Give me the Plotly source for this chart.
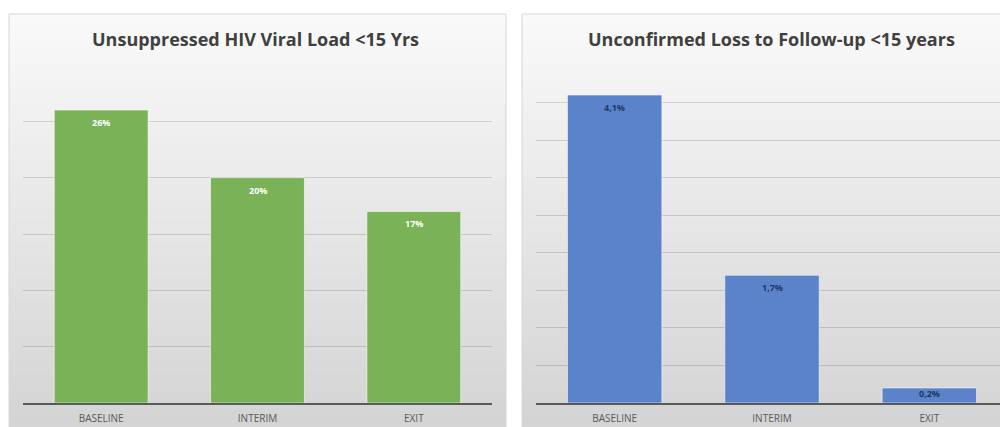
import plotly.graph_objects as go

categories = ["BASELINE", "INTERIM", "EXIT"]
vl_values = [0.26, 0.20, 0.17]
ltfu_values = [0.041, 0.017, 0.002]
title_left = "Unsuppressed HIV Viral Load <15 Yrs"
title_right = "Unconfirmed Loss to Follow-up <15 years"

# page body has an 8px margin; the figure fills the rest of the 1008x427 window
OFF = 8
W, H = 1000, 419
GREEN = "#79b257"
BLUE = "#5a83c9"

fig = go.Figure()
fig.add_trace(go.Bar(x=categories, y=vl_values, marker=dict(color=GREEN, line=dict(color="rgba(255,255,255,0.55)", width=1)),
                     xaxis="x", yaxis="y", hoverinfo="skip"))
fig.add_trace(go.Bar(x=categories, y=ltfu_values, marker=dict(color=BLUE, line=dict(color="rgba(255,255,255,0.55)", width=1)),
                     xaxis="x2", yaxis="y2", hoverinfo="skip"))

def px_x(p):
    return max(0.0, min(1.0, (p - OFF) / W))

def px_y(p):
    return max(0.0, min(1.0, 1 - (p - OFF) / H))

shapes = []
# gradient panel backgrounds
NB = 60
top_px, bot_px = 14, 427
for (x0, x1) in [(9, 506), (522, 1008)]:
    for i in range(NB):
        t = i / (NB - 1)
        c = int(250 - 38 * t)
        y0 = top_px + (bot_px - top_px) * i / NB
        y1 = top_px + (bot_px - top_px) * (i + 1) / NB + 0.6
        shapes.append(dict(type="rect", xref="paper", yref="paper", layer="below",
                           x0=px_x(x0), x1=px_x(x1), y0=px_y(min(y1, 427)), y1=px_y(y0),
                           line=dict(width=0), fillcolor=f"rgb({c},{c},{c})"))
    shapes.append(dict(type="rect", xref="paper", yref="paper", layer="below",
                       x0=px_x(x0), x1=px_x(x1), y0=0, y1=px_y(top_px),
                       line=dict(width=1, color="#d6d6d6"), fillcolor="rgba(0,0,0,0)"))

annotations = []
def labels(vals, xref, yref, fmt, color, yrange):
    for c, v in zip(categories, vals):
        small = v / yrange < 0.08
        annotations.append(dict(x=c, y=v, xref=xref, yref=yref, text=fmt(v), showarrow=False,
                                yanchor="top", yshift=(3 if small else -4),
                                font=dict(family="Open Sans", size=9, color=color, weight="bold")))

labels(vl_values, "x", "y", lambda v: f"{v*100:.0f}%", "white", 0.30)
labels(ltfu_values, "x2", "y2", lambda v: f"{v*100:.1f}%".replace(".", ","), "#1f3864", 0.045)

for txt, cx in [(title_left, 255), (title_right, 771)]:
    annotations.append(dict(x=px_x(cx), y=px_y(39), xref="paper", yref="paper", text=f"<b>{txt}</b>",
                            showarrow=False, xanchor="center", yanchor="middle",
                            font=dict(family="Open Sans", size=18, color="#404040")))

ydom = [px_y(403), px_y(65)]
axis_common = dict(showline=True, linecolor="#5a5a5a", linewidth=2, ticks="", showgrid=False,
                   ticklabelstandoff=5,
                   tickfont=dict(family="Open Sans", size=10, color="#595959"), range=[-0.5, 2.5], fixedrange=True)
yax_common = dict(showgrid=True, gridcolor="rgba(0,0,0,0.14)", gridwidth=1, showticklabels=False,
                  zeroline=False, showline=False, ticks="", fixedrange=True)

fig.update_layout(
    width=W, height=H, margin=dict(l=0, r=0, t=0, b=0),
    paper_bgcolor="white", plot_bgcolor="rgba(0,0,0,0)",
    showlegend=False, bargap=0.4,
    xaxis=dict(domain=[px_x(23), px_x(492)], anchor="y", **axis_common),
    yaxis=dict(domain=ydom, anchor="x", range=[0, 0.30], dtick=0.05, **yax_common),
    xaxis2=dict(domain=[px_x(536), px_x(1008)], anchor="y2", **axis_common),
    yaxis2=dict(domain=ydom, anchor="x2", range=[0, 0.045], dtick=0.005, **yax_common),
    shapes=shapes, annotations=annotations,
)

fig.write_html("out.html")
